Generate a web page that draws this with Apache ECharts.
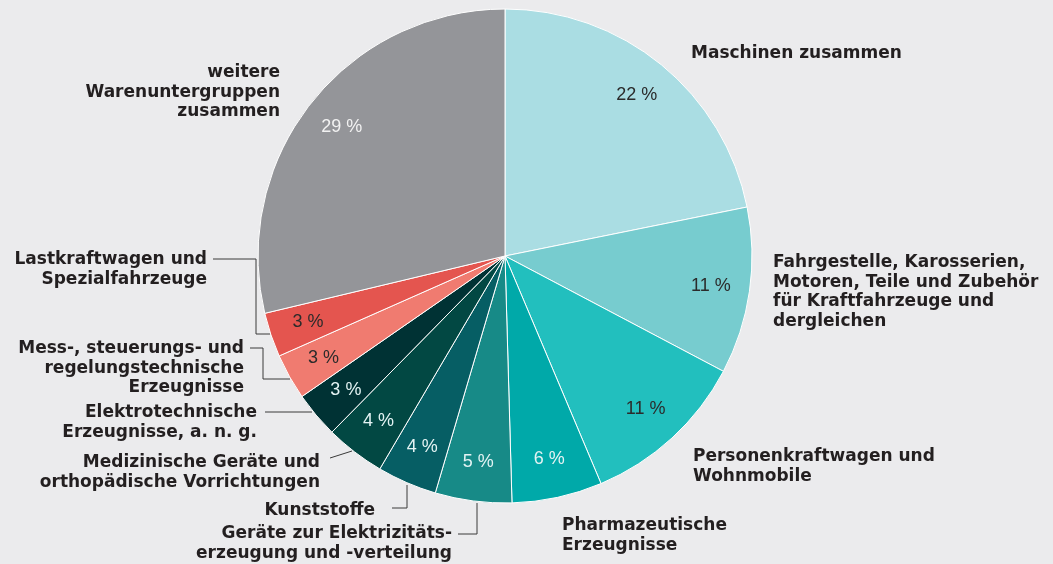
<!DOCTYPE html>
<html>
	<head>
		<meta charset="utf-8">
		<title>Warenuntergruppen</title>
		<script src="https://cdn.jsdelivr.net/npm/echarts@6/dist/echarts.min.js"></script>
		<style>
			body { margin: 0; background: #ebebed; }
		</style>
	</head>
	<body>
		<div id="main" style="width: 1053px;height:564px;"></div>
		<script type="text/javascript">
			// Warenuntergruppen, im Uhrzeigersinn ab 12 Uhr
			var names = [
				'Maschinen zusammen',
				'Fahrgestelle, Karosserien,\nMotoren, Teile und Zubehör\nfür Kraftfahrzeuge und\ndergleichen',
				'Personenkraftwagen und\nWohnmobile',
				'Pharmazeutische\nErzeugnisse',
				'Geräte zur Elektrizitäts-\nerzeugung und -verteilung',
				'Kunststoffe',
				'Medizinische Geräte und\northopädische Vorrichtungen',
				'Elektrotechnische\nErzeugnisse, a. n. g.',
				'Mess-, steuerungs- und\nregelungstechnische\nErzeugnisse',
				'Lastkraftwagen und\nSpezialfahrzeuge',
				'weitere\nWarenuntergruppen\nzusammen'
			];
			// Anteile in Prozent (aus dem Bild geschätzt)
			var shares = [21.8, 10.9, 10.9, 5.9, 5.0, 3.9, 3.9, 3.0, 3.0, 2.9, 28.7];

			var colors = ['#aadde3', '#77cccf', '#22bfbe', '#00a9a9', '#178a87', '#065e64',
				'#024843', '#003234', '#f07b70', '#e4554f', '#949599'];
			var pctColors = ['#2b2b2b', '#2b2b2b', '#2b2b2b', '#e3f3f3', '#e3f3f3', '#e3f3f3',
				'#e3f3f3', '#e3f3f3', '#2b2b2b', '#2b2b2b', '#f2f2f2'];

			// Position der Beschriftungen außen: [x, y(oben), Ausrichtung]
			var spots = [
				[691, 44, 'left'], [773, 253, 'left'], [693, 447, 'left'], [562, 516, 'left'],
				[452, 524, 'right'], [375, 501, 'right'], [320, 453, 'right'], [257, 403, 'right'],
				[244, 339, 'right'], [207, 250, 'right'], [280, 63, 'right']
			];
			// Führungslinien
			var leaders = [
				null, null, null, null,
				[[477, 503], [477, 534], [458, 534]],
				[[407, 485], [407, 508], [392, 508]],
				[[352, 451], [330, 458]],
				[[312, 412], [265, 412]],
				[[290, 379], [263, 379], [263, 348], [250, 348]],
				[[270, 334], [256, 334], [256, 259], [213, 259]],
				null
			];

			var myChart = echarts.init(document.getElementById('main'));

			var mainData = [];
			var pctData = [];
			for (var i = 0; i < names.length; i++) {
				mainData.push({
					name: names[i],
					value: shares[i],
					itemStyle: { color: colors[i] },
					labelLine: { show: leaders[i] != null }
				});
				pctData.push({
					name: names[i],
					value: shares[i],
					label: { color: pctColors[i] }
				});
			}

			option = {
				backgroundColor: '#ebebed',
				animation: false,
				series: [{
						type: 'pie',
						center: [505, 256],
						radius: 247,
						startAngle: 90,
						clockwise: true,
						avoidLabelOverlap: false,
						silent: true,
						itemStyle: {
							borderColor: '#ffffff',
							borderWidth: 1
						},
						label: {
							show: true,
							position: 'outside',
							fontFamily: 'DejaVu Sans',
							fontWeight: 'bold',
							fontSize: 17,
							lineHeight: 19.5,
							color: '#231f20',
							formatter: '{b}'
						},
						labelLine: {
							lineStyle: { color: '#3a3a3a', width: 1 }
						},
						labelLayout: function(params) {
							var s = spots[params.dataIndex];
							var out = {
								x: s[0],
								y: s[1],
								align: s[2],
								verticalAlign: 'top'
							};
							if (leaders[params.dataIndex]) {
								out.labelLinePoints = leaders[params.dataIndex];
							}
							return out;
						},
						data: mainData
					},
					{
						// Prozentangaben im Ring
						type: 'pie',
						center: [505, 256],
						radius: [163, 247],
						startAngle: 90,
						clockwise: true,
						silent: true,
						itemStyle: { color: 'transparent', borderWidth: 0 },
						label: {
							show: true,
							position: 'inside',
							fontFamily: 'Liberation Sans',
							fontSize: 18,
							formatter: function(p) {
								return Math.round(p.value) + ' %';
							}
						},
						labelLine: { show: false },
						data: pctData
					}
				]
			};
			myChart.setOption(option);
		</script>
	</body>
</html>
